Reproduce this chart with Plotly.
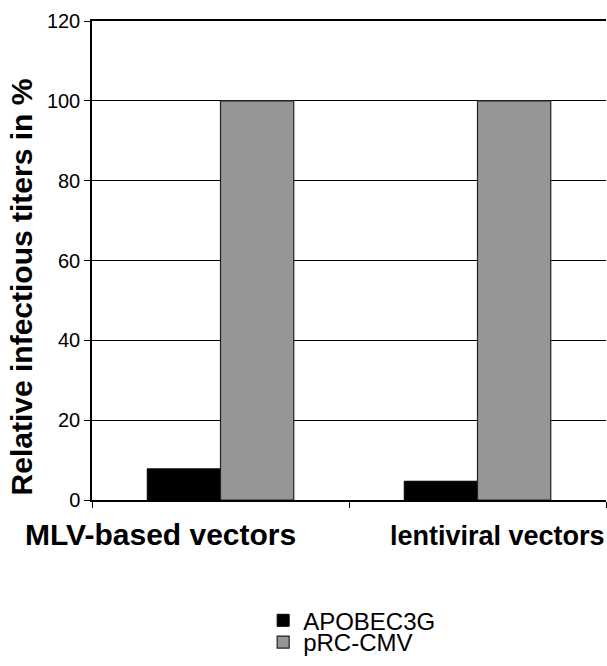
import plotly.graph_objects as go

categories = ["MLV-based vectors", "lentiviral vectors"]
apobec3g = [7.8, 4.7]
prc_cmv = [100, 100]
y_ticks = [0, 20, 40, 60, 80, 100, 120]
y_title = "Relative infectious titers in %"

fig = go.Figure()
fig.add_trace(go.Bar(x=categories, y=apobec3g, name="APOBEC3G", legend="legend",
                     marker=dict(color="#000000", line=dict(color="#000000", width=1))))
fig.add_trace(go.Bar(x=categories, y=prc_cmv, name="pRC-CMV", legend="legend2",
                     marker=dict(color="#969696", line=dict(color="#222222", width=1.2))))

leg_common = dict(xanchor="left", yanchor="middle", font=dict(size=24),
                  itemwidth=30, bgcolor="rgba(0,0,0,0)")
fig.update_layout(
    width=607, height=666,
    margin=dict(l=92, r=1, t=21, b=161),
    paper_bgcolor="white", plot_bgcolor="white",
    barmode="group", bargap=0.43, bargroupgap=0,
    font=dict(family="Arial, Liberation Sans, sans-serif", color="black"),
    showlegend=True,
    legend=dict(x=0.333, y=-0.252, **leg_common),
    legend2=dict(x=0.333, y=-0.2975, **leg_common),
)
fig.update_yaxes(range=[0, 120], tickvals=y_ticks, showgrid=True, gridcolor="black", gridwidth=1,
                 showline=True, linecolor="black", linewidth=1.5, ticks="outside", ticklen=6,
                 tickcolor="black", tickfont=dict(size=20), zeroline=False, automargin=False)
fig.update_xaxes(range=[-0.5, 1.5], autorange=False,
                 showline=True, linecolor="black", linewidth=1.5, ticks="outside", ticklen=6,
                 tickcolor="black", tickson="boundaries", showticklabels=False, mirror=True,
                 automargin=False)

label_xshifts = [-60, 20]
label_yshifts = [-16, -19]
label_sizes = [30, 27]
for cat, xs, ys, fs in zip(categories, label_xshifts, label_yshifts, label_sizes):
    fig.add_annotation(x=cat, y=0, xref="x", yref="y", text="<b>" + cat + "</b>",
                       showarrow=False, yanchor="top", yshift=ys, xshift=xs,
                       font=dict(size=fs))

fig.add_annotation(x=-0.138, y=0.444, xref="paper", yref="paper", text="<b>" + y_title + "</b>",
                   textangle=-90, showarrow=False, xanchor="center", yanchor="middle",
                   font=dict(size=30))

fig.write_html("out.html", config={"displayModeBar": False},
               post_script="document.body.style.margin='0';document.body.style.overflow='hidden';")
